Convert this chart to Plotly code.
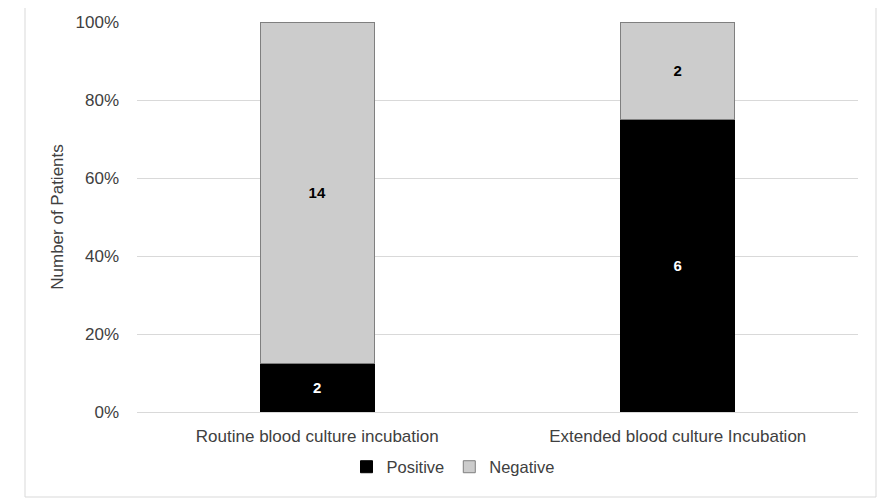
import plotly.graph_objects as go

categories = ["Routine blood culture incubation", "Extended blood culture Incubation"]
positive = [2, 6]
negative = [14, 2]

OFF = 8  # page body margin
W, H = 889 - OFF, 501 - OFF
L, R, T, B = 137 - OFF, 858 - OFF, 22 - OFF, 412 - OFF
pw, ph = R - L, B - T

FONT = "Liberation Sans, Arial"
TXT = "#404040"

fig = go.Figure()
fig.add_trace(go.Bar(
    x=categories, y=positive, name="Positive",
    marker=dict(color="#000000", line=dict(color="#000000", width=1)),
    text=["<b>%d</b>" % v for v in positive], textposition="inside", insidetextanchor="middle",
    textfont=dict(color="white", size=15, family=FONT),
))
fig.add_trace(go.Bar(
    x=categories, y=negative, name="Negative",
    marker=dict(color="#cccccc", line=dict(color="#7f7f7f", width=1)),
    text=["<b>%d</b>" % v for v in negative], textposition="inside", insidetextanchor="middle",
    textfont=dict(color="#000000", size=15, family=FONT),
))

fig.update_layout(
    barmode="stack", barnorm="fraction", bargap=0.683,
    width=W, height=H,
    margin=dict(l=L, r=W - R, t=T, b=H - B, autoexpand=False),
    paper_bgcolor="white", plot_bgcolor="white",
    font=dict(family=FONT, size=17, color=TXT),
    showlegend=True,
    legend=dict(orientation="h", x=(453 - 137) / pw, xanchor="center",
                y=(412 - 467) / ph, yanchor="middle",
                font=dict(size=16.5, color=TXT), itemwidth=30, traceorder="normal",
                bgcolor="rgba(0,0,0,0)"),
    uniformtext=dict(mode="show", minsize=10),
    shapes=[dict(type="rect", xref="paper", yref="paper",
                 x0=(25 - 137) / pw, x1=(876 - 137) / pw,
                 y0=(412 - 497) / ph, y1=(412 - 2) / ph,
                 line=dict(color="#d9d9d9", width=1), fillcolor="rgba(0,0,0,0)", layer="below")],
)
fig.update_xaxes(showgrid=False, showline=True, linecolor="#d9d9d9", ticks="",
                 automargin=False, ticklabelstandoff=9,
                 tickfont=dict(size=17, color=TXT))
fig.update_yaxes(range=[0, 1], tickformat=".0%", dtick=0.2, showgrid=True,
                 gridcolor="#d9d9d9", zeroline=False, showline=False, ticks="",
                 automargin=False, ticklabelstandoff=17,
                 tickfont=dict(size=17, color=TXT),
                 title=dict(text="Number of Patients", font=dict(size=17, color=TXT), standoff=7))

fig.write_html("out.html")
